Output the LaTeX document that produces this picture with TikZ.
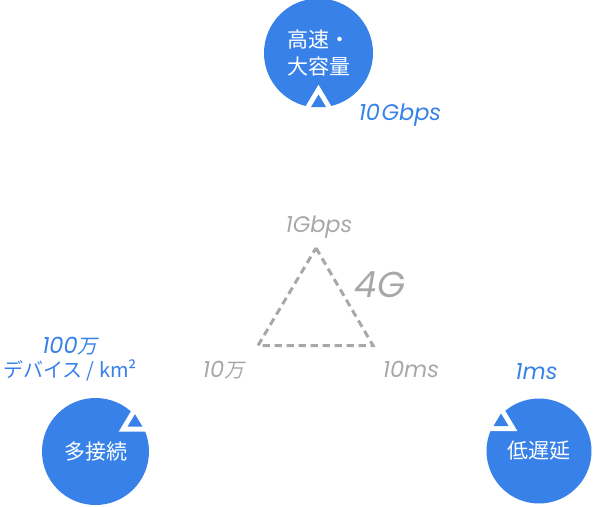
\documentclass[tikz,border=0pt]{standalone}
\usepackage{fontspec}
\setmainfont{Noto Sans CJK JP}
\newfontfamily\cjkup{Noto Sans CJK JP}
\newfontfamily\cjkit{Noto Sans CJK JP}[FakeSlant=0.2]
\newfontfamily\latit{Poppins Italic}
\newfontfamily\latmed{Poppins Italic}
\definecolor{fiveblue}{HTML}{3781E8}
\definecolor{fourgray}{HTML}{A8A8A8}
\newcommand\tmark[1]{%
  \fill[white] (#1) ++(-16.3,5) -- ++(16.3,-27.2) -- ++(16.3,27.2) -- cycle;
  \fill[fiveblue] (#1) ++(-7.5,0) -- ++(7.5,-12.5) -- ++(7.5,12.5) -- cycle;}
\begin{document}
\begin{tikzpicture}[x=1pt,y=-1pt,
  bubble/.style={circle, fill=fiveblue, draw=none, inner sep=0pt, text=white,
    align=center, font=\cjkup\fontsize{21}{27}\selectfont},
  bluelab/.style={text=fiveblue, anchor=base, inner sep=0pt,
    font=\latit\fontsize{22.5}{23}\selectfont},
  graylab/.style={text=fourgray, anchor=base, inner sep=0pt,
    font=\latit\fontsize{22.5}{23}\selectfont},
  dashtri/.style={draw=fourgray, line width=3pt, dash pattern=on 7.3pt off 4.7pt}
]
\useasboundingbox (0,0) rectangle (594,506);
% circles
\node[bubble, minimum size=109pt] (speed) at (318.5,53) {高速・\\大容量};
\node[bubble, minimum size=107pt] (conn) at (95.5,451.5) {多接続};
\node[bubble, minimum size=105pt] (lat) at (539,451) {低遅延};
% markers
\coordinate (mt) at (318.5,107);
\coordinate (mbl) at (135,426.7);
\coordinate (mbr) at (501,426);
\tmark{mt}
\tmark{mbl}
\tmark{mbr}
% 4G triangle
\coordinate (ta) at (316,248);
\coordinate (tl) at (258,345.5);
\coordinate (tr) at (373,345.5);
\draw[dashtri] (ta) -- (tr) -- (tl) -- cycle;
% labels
\node[graylab] (g1) at (319,232) {1Gbps};
\node[graylab] (g2) at (223.5,377) {10{\cjkit\fontsize{20}{20}\selectfont 万}};
\node[graylab] (g3) at (411,377) {10ms};
\node[text=fourgray, anchor=base, inner sep=0pt, font=\latmed\fontsize{36}{36}\selectfont] (fourg) at (380,297) {4G};
\node[bluelab] (b1) at (400,120) {10\hspace{1.5pt}Gbps};
\node[bluelab] (b2) at (70,353) {100{\cjkit\fontsize{20}{20}\selectfont 万}};
\node[text=fiveblue, anchor=base, inner sep=0pt, font=\cjkup\fontsize{20}{20}\selectfont] (b3) at (70,377) {デバイス / km²};
\node[bluelab] (b4) at (536.5,379) {1ms};
\end{tikzpicture}
\end{document}
